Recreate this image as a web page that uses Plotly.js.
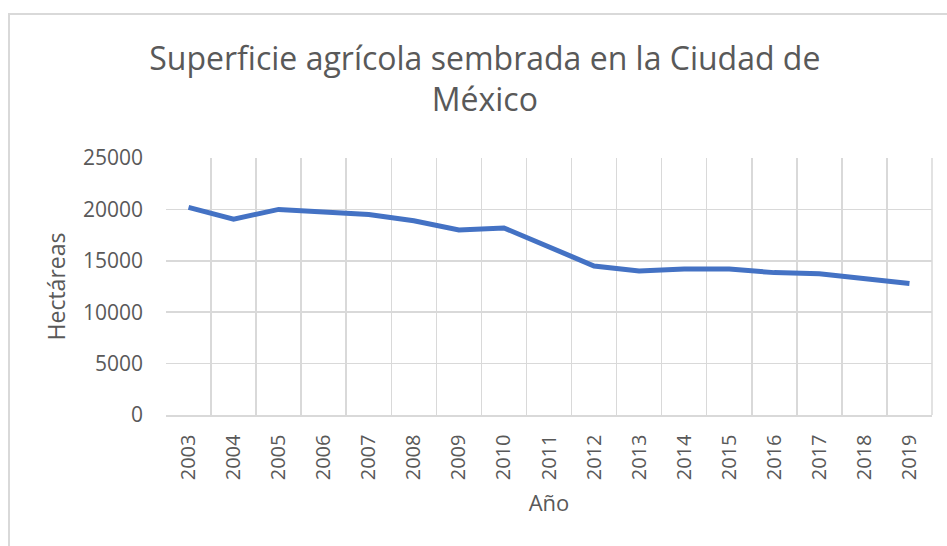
<!DOCTYPE html>
<html>
<head>
<meta charset="utf-8">
<script src="https://cdn.plot.ly/plotly-3.0.1.min.js"></script>
<style>
html,body{margin:0;padding:0;background:#fff;}
#chart{width:947px;height:546px;}
</style>
</head>
<body>
<div id="chart"></div>
<script>
const years = ["2003","2004","2005","2006","2007","2008","2009","2010","2011","2012","2013","2014","2015","2016","2017","2018","2019"];
const hectareas = [20200,19050,20000,19750,19500,18900,18000,18200,16350,14500,14000,14200,14200,13850,13750,13250,12800];
const yTicks = [0,5000,10000,15000,20000,25000];

const textColor = "#595959";
const font = "Open Sans, sans-serif";

const trace = {
  x: years,
  y: hectareas,
  type: "scatter",
  mode: "lines",
  line: {color: "#4472C4", width: 5, shape: "linear"},
  hoverinfo: "x+y"
};

const layout = {
  width: 947,
  height: 546,
  paper_bgcolor: "#ffffff",
  plot_bgcolor: "#ffffff",
  margin: {l: 166, r: 15, t: 158, b: 131},
  showlegend: false,
  font: {family: font, color: textColor},
  title: {
    text: "Superficie agrícola sembrada en la Ciudad de<br>México",
    font: {family: font, size: 32, color: textColor},
    xref: "container", x: 0.512, xanchor: "center",
    yref: "container", y: 0.872, yanchor: "top"
  },
  xaxis: {
    type: "category",
    range: [-0.5, years.length - 0.5],
    tickson: "boundaries",
    tickangle: -90,
    tickfont: {family: font, size: 20, color: textColor},
    showgrid: true,
    gridcolor: "#d9d9d9",
    gridwidth: 1.5,
    showline: true,
    linecolor: "#d9d9d9",
    linewidth: 1.5,
    mirror: false,
    ticks: "",
    ticklabelstandoff: 10,
    title: {text: "Año", font: {family: font, size: 22, color: textColor}, standoff: 16},
    automargin: false,
    fixedrange: true
  },
  yaxis: {
    range: [0, 25000],
    tickvals: yTicks,
    ticktext: yTicks.map(String),
    tickfont: {family: font, size: 21, color: textColor},
    showgrid: true,
    gridcolor: "#d9d9d9",
    gridwidth: 1.5,
    zeroline: false,
    showline: false,
    ticks: "",
    ticklabelstandoff: 22,
    title: {text: "Hectáreas", font: {family: font, size: 23, color: textColor}, standoff: 10},
    automargin: false,
    fixedrange: true
  },
  shapes: [
    {
      type: "rect",
      xref: "paper", yref: "paper",
      x0: (9 - 166) / 766, x1: (960 - 166) / 766,
      y0: (415 - 560) / 257, y1: (415 - 14) / 257,
      line: {color: "#d9d9d9", width: 2},
      fillcolor: "rgba(0,0,0,0)",
      layer: "below"
    },
    {
      type: "line",
      xref: "paper", yref: "paper",
      x0: 1, x1: 1, y0: 0, y1: 1,
      line: {color: "#d9d9d9", width: 1.5},
      layer: "below"
    }
  ]
};

Plotly.newPlot("chart", [trace], layout, {displayModeBar: false, staticPlot: true});
</script>
</body>
</html>
